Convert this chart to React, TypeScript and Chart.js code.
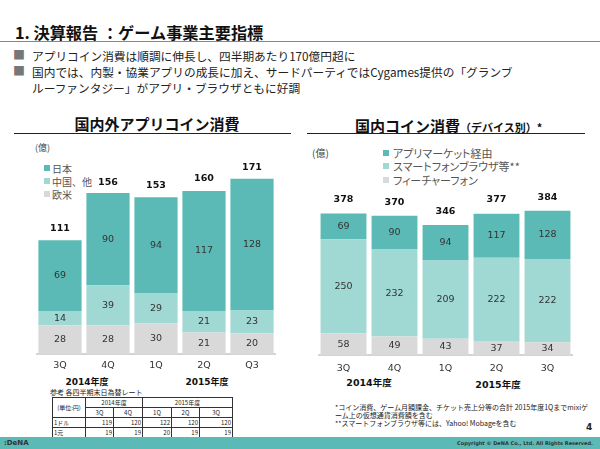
import React, { useEffect, useRef } from "react";
import { Chart, registerables } from "chart.js";

Chart.register(...registerables);

const TEAL = "#5BBAB5";
const LIGHT = "#A0D8D4";
const GRAY = "#D9D9D9";
const JP = '"Noto Sans CJK JP", sans-serif';
const NUM = '"DejaVu Sans", "Noto Sans CJK JP", sans-serif';

// 国内外アプリコイン消費（億円）
const globalQuarters = ["3Q", "4Q", "1Q", "2Q", "Q3"];
const globalJapan = [69, 90, 94, 117, 128];
const globalChina = [14, 39, 29, 21, 23];
const globalWest = [28, 28, 30, 21, 20];
const globalTotals = [111, 156, 153, 160, 171];

// 国内コイン消費（デバイス別、億円）
const domesticQuarters = ["3Q", "4Q", "1Q", "2Q", "3Q"];
const domesticApp = [69, 90, 94, 117, 128];
const domesticBrowser = [250, 232, 209, 222, 222];
const domesticFeature = [58, 49, 43, 37, 34];
const domesticTotals = [378, 370, 346, 377, 384];

// 各四半期末日為替レート（円）
const rateQuarters = ["3Q", "4Q", "1Q", "2Q", "3Q"];
const usdRates = [119, 120, 122, 120, 120];
const cnyRates = [19, 19, 20, 19, 19];

type Series = { label: string; data: number[]; color: string };

// Writes each segment's value inside it and the quarter total above the stack.
function makeLabelPlugin(totals: number[], size: number, gap: number) {
  return {
    id: "stackLabels",
    afterDatasetsDraw(chart: any) {
      const { ctx } = chart;
      ctx.save();
      ctx.textAlign = "center";
      ctx.textBaseline = "middle";
      ctx.fillStyle = "#333";
      ctx.font = `${size}px "DejaVu Sans"`;
      chart.data.datasets.forEach((ds: any, i: number) => {
        const meta = chart.getDatasetMeta(i);
        meta.data.forEach((bar: any, j: number) => {
          ctx.fillText(String(ds.data[j]), bar.x, (bar.y + bar.base) / 2);
        });
      });
      ctx.fillStyle = "#111";
      ctx.font = `bold ${size}px "DejaVu Sans"`;
      const yScale = chart.scales.y;
      const first = chart.getDatasetMeta(0);
      totals.forEach((t, j) => {
        ctx.fillText(String(t), first.data[j].x, yScale.getPixelForValue(t) - gap);
      });
      ctx.restore();
    },
  };
}

function StackedBars(props: {
  left: number;
  top: number;
  width: number;
  height: number;
  axisHeight: number;
  labels: string[];
  series: Series[];
  totals: number[];
  yMax: number;
  tickPad: number;
  gap: number;
  fontSize: number;
}) {
  const ref = useRef<HTMLCanvasElement>(null);
  useEffect(() => {
    const chart = new Chart(ref.current as HTMLCanvasElement, {
      type: "bar",
      data: {
        labels: props.labels,
        datasets: props.series.map((s) => ({
          label: s.label,
          data: s.data,
          backgroundColor: s.color,
          borderWidth: 0,
          barPercentage: 0.9,
          categoryPercentage: 1,
        })),
      },
      options: {
        animation: false,
        responsive: false,
        maintainAspectRatio: false,
        layout: { padding: 0 },
        plugins: { legend: { display: false }, tooltip: { enabled: false } },
        scales: {
          x: {
            stacked: true,
            grid: { display: false, drawTicks: false },
            border: { display: true, color: "#D4D4D4", width: 2 },
            ticks: {
              color: "#333",
              padding: props.tickPad,
              font: { family: "DejaVu Sans", size: props.fontSize },
            },
            afterFit: (scale: any) => {
              scale.height = props.axisHeight;
            },
          },
          y: { stacked: true, display: false, min: 0, max: props.yMax },
        },
      },
      plugins: [makeLabelPlugin(props.totals, props.fontSize, props.gap)],
    } as any);
    return () => chart.destroy();
  }, []);
  return (
    <canvas
      ref={ref}
      width={props.width}
      height={props.height}
      style={{ position: "absolute", left: props.left, top: props.top, width: props.width, height: props.height }}
    />
  );
}

function T(props: {
  x: number;
  y: number;
  size: number;
  bold?: boolean;
  center?: boolean;
  right?: boolean;
  palt?: boolean;
  color?: string;
  font?: string;
  children: React.ReactNode;
}) {
  const lh = Math.round(props.size * 1.3);
  return (
    <div
      style={{
        position: "absolute",
        left: props.right ? undefined : props.x,
        right: props.right ? 600 - props.x : undefined,
        top: props.y - lh / 2,
        fontSize: props.size,
        lineHeight: `${lh}px`,
        fontWeight: props.bold ? 700 : 400,
        fontFamily: props.font ?? JP,
        fontFeatureSettings: props.palt ? '"palt" 1' : undefined,
        color: props.color ?? "#222",
        whiteSpace: "nowrap",
        transform: props.center ? "translateX(-50%)" : undefined,
      }}
    >
      {props.children}
    </div>
  );
}

function Swatch(props: { x: number; y: number; size: number; color: string }) {
  return (
    <div
      style={{
        position: "absolute",
        left: props.x,
        top: props.y - props.size / 2,
        width: props.size,
        height: props.size,
        background: props.color,
      }}
    />
  );
}

function RateTable() {
  const cell: React.CSSProperties = {
    border: "1px solid #333",
    padding: "0 1px",
    height: 9,
    lineHeight: "9px",
    fontSize: 6,
    fontFamily: JP,
    color: "#222",
  };
  const cols = [33, 28, 29, 29, 28, 33];
  return (
    <table
      style={{
        position: "absolute",
        left: 52,
        top: 397,
        borderCollapse: "collapse",
        tableLayout: "fixed",
        width: 181,
      }}
    >
      <colgroup>
        {cols.map((w, i) => (
          <col key={i} style={{ width: w }} />
        ))}
      </colgroup>
      <tbody>
        <tr>
          <td rowSpan={2} style={{ ...cell, textAlign: "center" }}>(単位:円)</td>
          <td colSpan={2} style={{ ...cell, textAlign: "center" }}>2014年度</td>
          <td colSpan={3} style={{ ...cell, textAlign: "center" }}>2015年度</td>
        </tr>
        <tr>
          {rateQuarters.map((q, i) => (
            <td key={i} style={{ ...cell, textAlign: "center" }}>{q}</td>
          ))}
        </tr>
        <tr>
          <td style={cell}>1ドル</td>
          {usdRates.map((v, i) => (
            <td key={i} style={{ ...cell, textAlign: "right" }}>{v}</td>
          ))}
        </tr>
        <tr>
          <td style={cell}>1元</td>
          {cnyRates.map((v, i) => (
            <td key={i} style={{ ...cell, textAlign: "right" }}>{v}</td>
          ))}
        </tr>
      </tbody>
    </table>
  );
}

export default function App() {
  const globalSeries: Series[] = [
    { label: "欧米", data: globalWest, color: GRAY },
    { label: "中国、他", data: globalChina, color: LIGHT },
    { label: "日本", data: globalJapan, color: TEAL },
  ];
  const domesticSeries: Series[] = [
    { label: "フィーチャーフォン", data: domesticFeature, color: GRAY },
    { label: "スマートフォンブラウザ等**", data: domesticBrowser, color: LIGHT },
    { label: "アプリマーケット経由", data: domesticApp, color: TEAL },
  ];

  return (
    <div
      style={{
        position: "fixed",
        left: 0,
        top: 0,
        width: 600,
        height: 449,
        background: "#fff",
        overflow: "hidden",
      }}
    >
      {/* slide heading */}
      <T x={15} y={32} size={16.2} bold color="#111">
        1. 決算報告 ：ゲーム事業主要指標
      </T>
      <div style={{ position: "absolute", left: 0, top: 41, width: 600, height: 1, background: "#888" }} />

      {/* bullet points */}
      <T x={13} y={55} size={12} color="#777">■</T>
      <T x={32} y={55} size={11.7}>アプリコイン消費は順調に伸長し、四半期あたり170億円超に</T>
      <T x={13} y={71} size={12} color="#777">■</T>
      <T x={32} y={71} size={11.7}>国内では、内製・協業アプリの成長に加え、サードパーティではCygames提供の「グランブ</T>
      <T x={32} y={87} size={11.7}>ルーファンタジー」がアプリ・ブラウザともに好調</T>

      {/* left panel */}
      <T x={157} y={124} size={15} bold center color="#111">国内外アプリコイン消費</T>
      <div style={{ position: "absolute", left: 14, top: 133, width: 277, height: 1, background: "#222" }} />
      <T x={35} y={148} size={9} color="#444">(億)</T>
      <Swatch x={44} y={168} size={6} color={TEAL} />
      <T x={52} y={168} size={10} color="#555">日本</T>
      <Swatch x={44} y={181} size={6} color={LIGHT} />
      <T x={52} y={181} size={10} color="#555">中国、他</T>
      <Swatch x={44} y={194} size={6} color={GRAY} />
      <T x={52} y={194} size={10} color="#555">欧米</T>
      <StackedBars
        left={36}
        top={150}
        width={240}
        height={224}
        axisHeight={20}
        labels={globalQuarters}
        series={globalSeries}
        totals={globalTotals}
        yMax={199}
        tickPad={6}
        gap={11.5}
        fontSize={9.5}
      />
      <T x={87} y={382} size={9} bold center font={NUM} color="#111">2014年度</T>
      <T x={207} y={382} size={9} bold center font={NUM} color="#111">2015年度</T>
      <T x={50} y={392} size={7} color="#222">参考 各四半期末日為替レート</T>
      <RateTable />

      {/* right panel */}
      <div
        style={{
          position: "absolute",
          left: 355,
          top: 115,
          whiteSpace: "nowrap",
          fontFamily: JP,
          fontWeight: 700,
          color: "#111",
          lineHeight: "20px",
        }}
      >
        <span style={{ fontSize: 15 }}>国内コイン消費</span>
        <span style={{ fontSize: 11 }}>（デバイス別）*</span>
      </div>
      <div style={{ position: "absolute", left: 307, top: 133, width: 278, height: 1, background: "#222" }} />
      <T x={312} y={152} size={10} color="#444">(億)</T>
      <Swatch x={383} y={153} size={6} color={TEAL} />
      <T x={393} y={153} size={11} palt color="#555">アプリマーケット経由</T>
      <Swatch x={383} y={166} size={6} color={LIGHT} />
      <T x={393} y={166} size={11} palt color="#555">スマートフォンブラウザ等**</T>
      <Swatch x={383} y={180} size={6} color={GRAY} />
      <T x={393} y={180} size={11} palt color="#555">フィーチャーフォン</T>
      <StackedBars
        left={318}
        top={150}
        width={255}
        height={225}
        axisHeight={20}
        labels={domesticQuarters}
        series={domesticSeries}
        totals={domesticTotals}
        yMax={546}
        tickPad={8}
        gap={13.5}
        fontSize={9.5}
      />
      <T x={369} y={383} size={9.5} bold center font={NUM} color="#111">2014年度</T>
      <T x={498} y={385} size={9.5} bold center font={NUM} color="#111">2015年度</T>
      <T x={335} y={407} size={7}>*コイン消費、ゲーム月額課金、チケット売上分等の合計 2015年度1Qまでmixiゲ</T>
      <T x={335} y={415} size={7}>ーム上の仮想通貨消費額を含む</T>
      <T x={335} y={423} size={7}>**スマートフォンブラウザ等には、Yahoo! Mobageを含む</T>
      <T x={586} y={427} size={9} bold font={NUM} color="#222">4</T>

      {/* footer band */}
      <div style={{ position: "absolute", left: 0, top: 437, width: 600, height: 12, background: TEAL }} />
      <T x={4} y={443} size={7} bold font={NUM} color="#333">:DeNA</T>
      <T x={593} y={443} size={5} bold right font={NUM} color="#333">
        Copyright © DeNA Co., Ltd. All Rights Reserved.
      </T>
    </div>
  );
}
